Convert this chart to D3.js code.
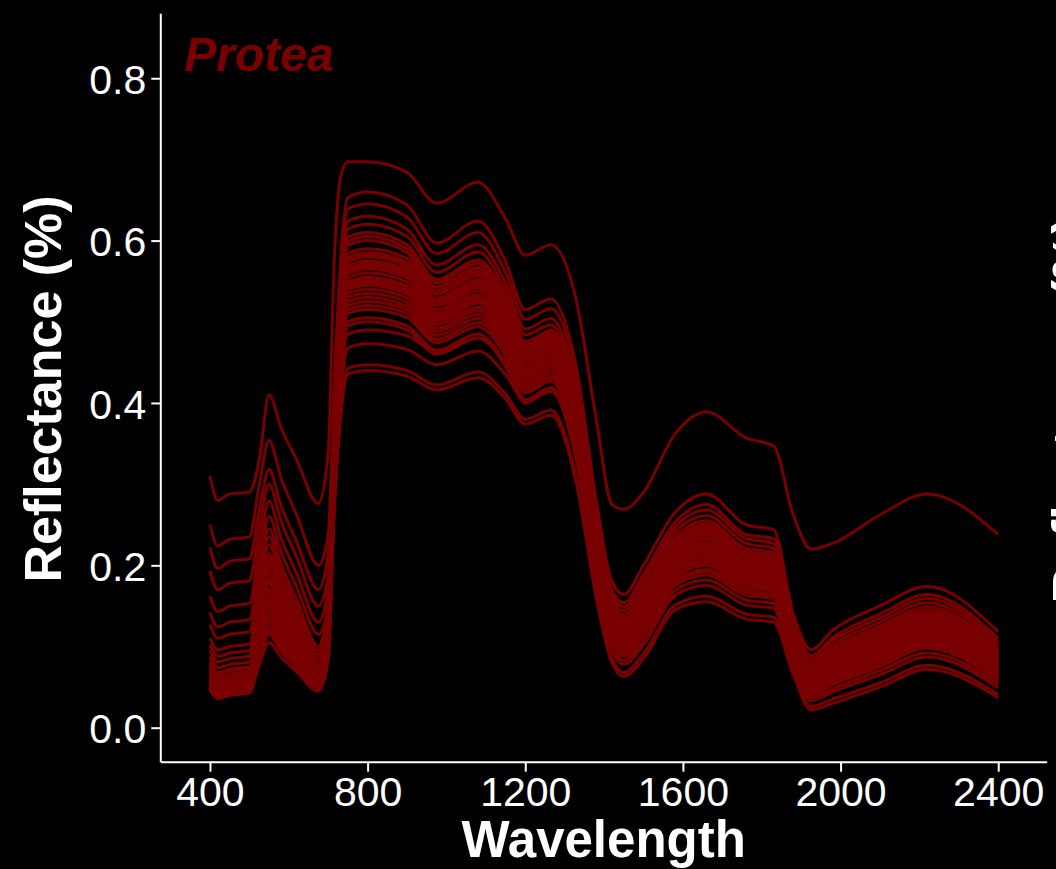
<!DOCTYPE html>
<html lang="en">
<head>
<meta charset="UTF-8">
<title>Protea reflectance spectra</title>
<script src="https://d3js.org/d3.v7.min.js"></script>
<style>
  html, body { margin: 0; padding: 0; background: #000; }
  svg { display: block; }
  text { font-family: "Liberation Sans", Arial, Helvetica, sans-serif; }
</style>
</head>
<body>
<svg id="chart" width="1056" height="869"></svg>
<script>
  const wavelengths = [400, 420, 450, 500, 525, 550, 580, 620, 675, 700, 715, 730, 750, 800, 900, 975, 1080, 1150, 1200, 1265,
    1330, 1380, 1420, 1450, 1500, 1580, 1660, 1760, 1830, 1880, 1925, 1980, 2100, 2220, 2400];

  // one row per leaf spectrum (reflectance, 0-1)
  const spectra = [
    [0.31,0.28,0.288,0.29,0.33,0.41,0.37,0.33,0.276,0.34,0.57,0.675,0.697,0.697,0.684,0.646,0.672,0.627,0.582,0.595, 0.525,0.38,0.275,0.269,0.29,0.362,0.389,0.357,0.347,0.262,0.22,0.227,0.262,0.288,0.238],
    [0.25,0.224,0.232,0.235,0.299,0.354,0.308,0.262,0.20,0.238,0.409,0.515,0.574,0.58,0.568,0.534,0.557,0.516,0.464,0.481, 0.396,0.226,0.135,0.119,0.148,0.211,0.228,0.198,0.193,0.106,0.063,0.08,0.105,0.128,0.082],
    [0.222,0.196,0.205,0.208,0.267,0.318,0.274,0.229,0.17,0.215,0.418,0.543,0.614,0.62,0.605,0.561,0.586,0.539,0.484,0.496, 0.411,0.244,0.15,0.134,0.166,0.229,0.248,0.215,0.21,0.118,0.074,0.093,0.12,0.143,0.094],
    [0.193,0.17,0.178,0.181,0.245,0.30,0.255,0.21,0.15,0.188,0.359,0.465,0.525,0.53,0.519,0.488,0.509,0.472,0.424,0.44, 0.355,0.214,0.125,0.108,0.137,0.199,0.215,0.186,0.181,0.099,0.055,0.071,0.095,0.118,0.073],
    [0.162,0.143,0.15,0.153,0.221,0.279,0.234,0.19,0.13,0.173,0.364,0.483,0.549,0.555,0.544,0.511,0.533,0.494,0.444,0.461, 0.376,0.232,0.14,0.124,0.154,0.217,0.235,0.204,0.198,0.11,0.066,0.084,0.11,0.133,0.086],
    [0.142,0.124,0.13,0.133,0.20,0.26,0.217,0.173,0.115,0.154,0.327,0.435,0.495,0.50,0.49,0.46,0.48,0.445,0.40,0.415, 0.33,0.202,0.115,0.098,0.125,0.187,0.202,0.175,0.17,0.091,0.048,0.062,0.085,0.108,0.065],
    [0.127,0.11,0.115,0.118,0.187,0.245,0.202,0.158,0.10,0.156,0.408,0.565,0.653,0.66,0.644,0.597,0.624,0.574,0.515,0.528, 0.443,0.28,0.18,0.164,0.20,0.265,0.288,0.25,0.244,0.14,0.096,0.12,0.15,0.174,0.118],
    [0.11,0.096,0.10,0.103,0.174,0.235,0.193,0.151,0.095,0.15,0.398,0.552,0.639,0.645,0.629,0.584,0.61,0.561,0.503,0.516, 0.431,0.262,0.165,0.149,0.183,0.247,0.268,0.233,0.227,0.129,0.085,0.107,0.135,0.159,0.106],
    [0.102,0.088,0.092,0.095,0.165,0.225,0.185,0.144,0.09,0.141,0.371,0.513,0.594,0.60,0.585,0.543,0.567,0.522,0.468,0.48, 0.395,0.25,0.155,0.139,0.171,0.235,0.255,0.221,0.216,0.121,0.078,0.098,0.125,0.149,0.098],
    [0.095,0.081,0.085,0.088,0.157,0.215,0.176,0.137,0.085,0.134,0.352,0.488,0.564,0.57,0.559,0.524,0.547,0.507,0.456,0.473, 0.388,0.22,0.13,0.113,0.143,0.205,0.222,0.192,0.187,0.103,0.059,0.075,0.10,0.123,0.078],
    [0.088,0.074,0.078,0.081,0.148,0.205,0.168,0.13,0.08,0.126,0.333,0.462,0.535,0.54,0.529,0.497,0.518,0.481,0.432,0.448, 0.363,0.223,0.133,0.116,0.146,0.208,0.225,0.195,0.19,0.105,0.061,0.078,0.103,0.126,0.08],
    [0.082,0.068,0.072,0.075,0.142,0.20,0.163,0.125,0.075,0.124,0.345,0.482,0.559,0.565,0.554,0.52,0.542,0.503,0.452,0.469, 0.384,0.238,0.145,0.129,0.16,0.223,0.241,0.209,0.204,0.114,0.07,0.089,0.115,0.138,0.09],
    [0.076,0.062,0.066,0.069,0.134,0.19,0.155,0.119,0.072,0.124,0.357,0.502,0.584,0.59,0.578,0.543,0.566,0.525,0.472,0.49, 0.405,0.235,0.143,0.127,0.157,0.22,0.238,0.207,0.201,0.112,0.068,0.087,0.113,0.136,0.088],
    [0.072,0.058,0.062,0.065,0.13,0.185,0.151,0.116,0.07,0.116,0.32,0.448,0.52,0.525,0.515,0.483,0.504,0.467,0.42,0.436, 0.351,0.208,0.12,0.103,0.131,0.193,0.208,0.18,0.176,0.095,0.052,0.066,0.09,0.113,0.069],
    [0.068,0.054,0.058,0.061,0.124,0.178,0.144,0.111,0.066,0.114,0.331,0.466,0.543,0.548,0.537,0.504,0.526,0.488,0.438,0.455, 0.37,0.217,0.128,0.111,0.14,0.202,0.219,0.189,0.184,0.101,0.057,0.073,0.098,0.121,0.076],
    [0.064,0.051,0.055,0.058,0.118,0.17,0.138,0.106,0.063,0.114,0.345,0.488,0.569,0.575,0.564,0.529,0.552,0.512,0.46,0.477, 0.392,0.211,0.123,0.106,0.134,0.196,0.212,0.183,0.179,0.097,0.054,0.069,0.093,0.116,0.071],
    [0.061,0.048,0.052,0.055,0.114,0.165,0.134,0.102,0.06,0.115,0.363,0.516,0.604,0.61,0.595,0.552,0.576,0.531,0.476,0.488, 0.403,0.256,0.16,0.144,0.177,0.241,0.261,0.227,0.221,0.125,0.081,0.102,0.13,0.154,0.102],
    [0.059,0.046,0.05,0.053,0.111,0.16,0.129,0.099,0.058,0.106,0.32,0.454,0.53,0.535,0.524,0.492,0.514,0.476,0.428,0.444, 0.359,0.196,0.11,0.093,0.12,0.181,0.195,0.169,0.164,0.088,0.044,0.057,0.08,0.103,0.061],
    [0.057,0.044,0.048,0.051,0.107,0.155,0.125,0.096,0.056,0.106,0.333,0.474,0.554,0.56,0.549,0.515,0.538,0.498,0.448,0.465, 0.38,0.229,0.138,0.122,0.151,0.214,0.232,0.201,0.196,0.108,0.065,0.082,0.108,0.131,0.084],
    [0.055,0.042,0.046,0.049,0.103,0.15,0.121,0.092,0.054,0.101,0.31,0.441,0.515,0.52,0.51,0.478,0.499,0.463,0.416,0.432, 0.347,0.205,0.118,0.101,0.128,0.19,0.205,0.178,0.173,0.093,0.05,0.064,0.088,0.111,0.067],
    [0.053,0.04,0.044,0.047,0.10,0.145,0.117,0.089,0.052,0.11,0.37,0.532,0.624,0.63,0.614,0.57,0.595,0.548,0.491,0.504, 0.419,0.268,0.17,0.154,0.189,0.253,0.275,0.238,0.233,0.133,0.089,0.111,0.14,0.164,0.11],
    [0.052,0.039,0.043,0.046,0.096,0.14,0.113,0.086,0.05,0.10,0.322,0.461,0.54,0.545,0.534,0.501,0.523,0.485,0.436,0.452, 0.367,0.20,0.113,0.096,0.123,0.185,0.20,0.173,0.168,0.09,0.047,0.06,0.083,0.106,0.063],
    [0.05,0.038,0.042,0.045,0.093,0.135,0.109,0.083,0.049,0.095,0.30,0.427,0.50,0.505,0.495,0.465,0.485,0.449,0.404,0.419, 0.334,0.19,0.105,0.088,0.114,0.175,0.188,0.163,0.159,0.084,0.041,0.053,0.075,0.098,0.057],
    [0.049,0.037,0.041,0.044,0.09,0.13,0.105,0.081,0.048,0.092,0.291,0.415,0.485,0.49,0.483,0.463,0.48,0.451,0.417,0.429, 0.344,0.184,0.10,0.083,0.108,0.169,0.182,0.157,0.153,0.08,0.037,0.048,0.07,0.092,0.053],
    [0.048,0.036,0.04,0.043,0.087,0.125,0.102,0.078,0.047,0.098,0.326,0.469,0.546,0.552,0.541,0.508,0.53,0.491,0.442,0.458, 0.373,0.216,0.127,0.11,0.139,0.201,0.218,0.188,0.183,0.10,0.056,0.072,0.097,0.12,0.075],
    [0.047,0.036,0.04,0.043,0.084,0.12,0.098,0.076,0.046,0.089,0.281,0.40,0.468,0.473,0.466,0.447,0.464,0.435,0.402,0.414, 0.329,0.178,0.095,0.078,0.102,0.163,0.175,0.151,0.147,0.076,0.033,0.044,0.065,0.087,0.049],
    [0.046,0.036,0.04,0.043,0.081,0.115,0.094,0.074,0.046,0.085,0.263,0.373,0.436,0.44,0.433,0.416,0.431,0.405,0.374,0.385, 0.30,0.16,0.08,0.063,0.085,0.145,0.155,0.134,0.13,0.065,0.022,0.03,0.05,0.072,0.037],
    [0.048,0.038,0.042,0.045,0.077,0.105,0.087,0.069,0.045,0.085,0.266,0.379,0.443,0.447,0.44,0.422,0.438,0.411,0.38,0.391, 0.306,0.166,0.085,0.068,0.091,0.151,0.162,0.14,0.136,0.069,0.026,0.035,0.055,0.077,0.041],
    [0.07,0.056,0.06,0.063,0.134,0.195,0.161,0.126,0.08,0.129,0.347,0.483,0.562,0.568,0.557,0.523,0.545,0.506,0.454,0.471, 0.386,0.224,0.133,0.117,0.146,0.209,0.226,0.196,0.191,0.105,0.061,0.078,0.103,0.126,0.08],
    [0.08,0.066,0.07,0.073,0.147,0.21,0.173,0.135,0.085,0.135,0.359,0.498,0.577,0.583,0.571,0.536,0.56,0.519,0.466,0.484, 0.399,0.242,0.148,0.132,0.164,0.227,0.246,0.213,0.208,0.116,0.073,0.091,0.118,0.141,0.092],
    [0.059,0.046,0.05,0.053,0.116,0.17,0.139,0.107,0.065,0.119,0.362,0.513,0.599,0.605,0.59,0.548,0.572,0.526,0.472,0.484, 0.399,0.246,0.152,0.136,0.168,0.231,0.251,0.217,0.212,0.119,0.076,0.095,0.122,0.145,0.096],
    [0.064,0.051,0.055,0.058,0.124,0.18,0.147,0.114,0.07,0.115,0.315,0.439,0.51,0.515,0.505,0.474,0.494,0.458,0.412,0.427, 0.342,0.194,0.108,0.091,0.118,0.179,0.192,0.167,0.162,0.087,0.043,0.055,0.078,0.101,0.059],
    [0.054,0.041,0.045,0.048,0.103,0.15,0.122,0.095,0.058,0.109,0.34,0.483,0.566,0.572,0.561,0.526,0.549,0.509,0.458,0.475, 0.39,0.236,0.144,0.128,0.158,0.221,0.239,0.207,0.202,0.113,0.069,0.088,0.114,0.137,0.089],
    [0.057,0.044,0.048,0.051,0.11,0.16,0.13,0.10,0.06,0.113,0.349,0.496,0.579,0.585,0.573,0.538,0.562,0.521,0.468,0.486, 0.401,0.239,0.146,0.13,0.161,0.224,0.243,0.21,0.205,0.115,0.071,0.09,0.116,0.139,0.091],
    [0.075,0.061,0.065,0.068,0.139,0.20,0.163,0.125,0.075,0.123,0.336,0.469,0.545,0.55,0.539,0.506,0.528,0.49,0.44,0.457, 0.372,0.215,0.126,0.109,0.138,0.20,0.216,0.187,0.182,0.10,0.056,0.072,0.096,0.119,0.074]
  ];

  const xTicks = [400, 800, 1200, 1600, 2000, 2400];
  const yTicks = [0, 0.2, 0.4, 0.6, 0.8];
  const genus = "Protea";
  const xTitle = "Wavelength";
  const yTitle = "Reflectance (%)";

  const lineColor = "#780000";
  const svg = d3.select("#chart");

  const x = d3.scaleLinear().domain([275, 2523]).range([160.7, 1046.7]);
  const y = d3.scaleLinear().domain([-0.0419, 0.88]).range([761.7, 13.3]);

  const line = d3.line()
    .x((d, i) => x(wavelengths[i]))
    .y(d => y(d))
    .curve(d3.curveMonotoneX);

  svg.append("g")
    .selectAll("path")
    .data(spectra)
    .join("path")
    .attr("d", line)
    .attr("fill", "none")
    .attr("stroke", lineColor)
    .attr("stroke-width", 3)
    .attr("stroke-linejoin", "round");

  const styleAxis = g => {
    g.attr("font-family", null).attr("font-size", null);
    g.select(".domain").attr("stroke", "#fff").attr("stroke-width", 2);
    g.selectAll(".tick line").attr("stroke", "#fff").attr("stroke-width", 2);
    g.selectAll(".tick text")
      .attr("fill", "#fff")
      .style("font-family", '"Liberation Sans", Arial, sans-serif')
      .style("font-size", "41px");
  };

  svg.append("g")
    .attr("transform", "translate(0,761.7)")
    .call(d3.axisBottom(x).tickValues(xTicks).tickFormat(d3.format("d"))
      .tickSize(10).tickSizeOuter(0).tickPadding(5))
    .call(styleAxis);

  svg.append("g")
    .attr("transform", "translate(160.3,0)")
    .call(d3.axisLeft(y).tickValues(yTicks).tickFormat(d3.format(".1f"))
      .tickSize(9).tickSizeOuter(0).tickPadding(5))
    .call(styleAxis)
    .selectAll(".tick text").attr("dy", "0.37em");

  svg.append("text")
    .attr("x", 603.7)
    .attr("y", 857)
    .attr("text-anchor", "middle")
    .attr("fill", "#fff")
    .style("font-size", "51px")
    .style("font-weight", "bold")
    .text(xTitle);

  svg.append("text")
    .attr("transform", "translate(61,389) rotate(-90)")
    .attr("text-anchor", "middle")
    .attr("fill", "#fff")
    .style("font-size", "52px")
    .style("font-weight", "bold")
    .text(yTitle);

  // the next panel's axis title, mostly cut off by the right edge
  svg.append("text")
    .attr("transform", "translate(1089,410) rotate(-90)")
    .attr("text-anchor", "middle")
    .attr("fill", "#fff")
    .style("font-size", "52px")
    .style("font-weight", "bold")
    .text(yTitle);

  svg.append("text")
    .attr("x", 184)
    .attr("y", 70.5)
    .attr("fill", lineColor)
    .style("font-size", "48px")
    .style("font-weight", "bold")
    .style("font-style", "italic")
    .text(genus);
</script>
</body>
</html>
